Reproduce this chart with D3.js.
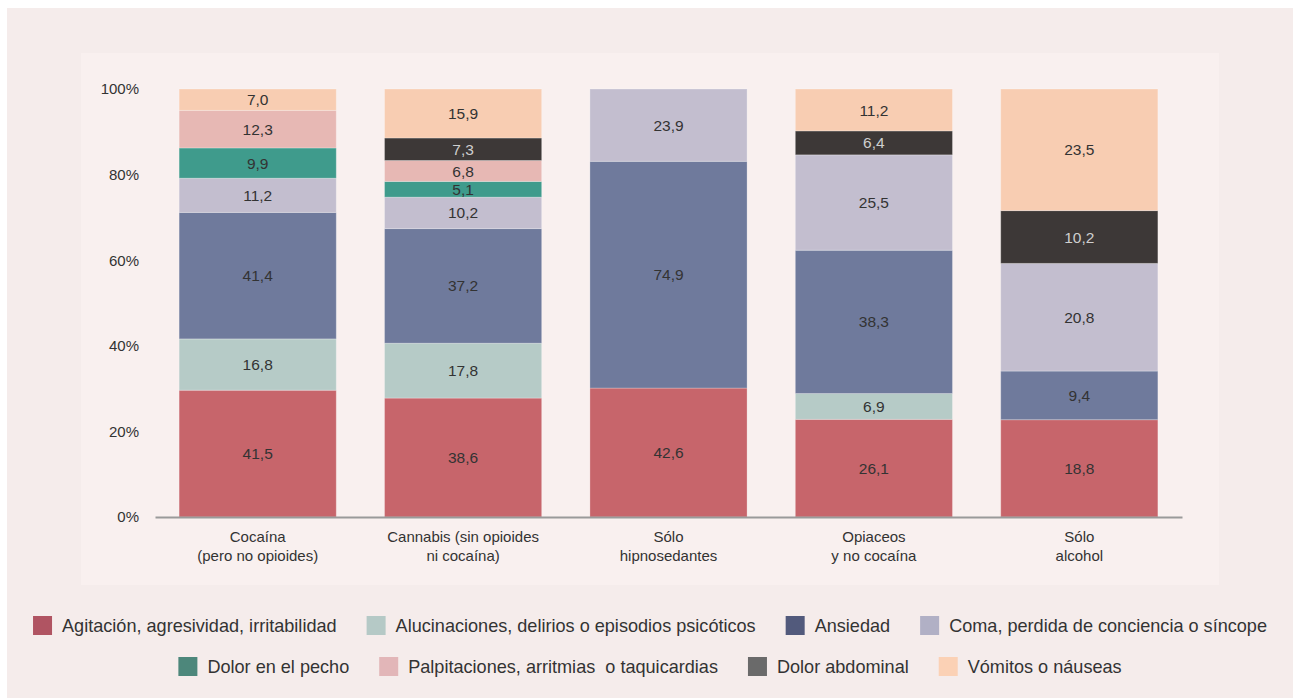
<!DOCTYPE html>
<html><head><meta charset="utf-8">
<script src="https://cdn.jsdelivr.net/npm/d3@7"></script>
<style>
html,body{margin:0;padding:0;background:#fff;}
svg{display:block;font-family:"Liberation Sans",Arial,Helvetica,sans-serif;}
</style></head>
<body>
<script>
const categories = [
  ["Cocaína","(pero no opioides)"],
  ["Cannabis (sin opioides","ni cocaína)"],
  ["Sólo","hipnosedantes"],
  ["Opiaceos","y no cocaína"],
  ["Sólo","alcohol"]
];
const seriesNames = [
  "Agitación, agresividad, irritabilidad",
  "Alucinaciones, delirios o episodios psicóticos",
  "Ansiedad",
  "Coma, perdida de conciencia o síncope",
  "Dolor en el pecho",
  "Palpitaciones, arritmias  o taquicardias",
  "Dolor abdominal",
  "Vómitos o náuseas"
];
// values per series, one per category (null = not present)
const agitacion      = [41.5, 38.6, 42.6, 26.1, 18.8];
const alucinaciones  = [16.8, 17.8, null, 6.9, null];
const ansiedad       = [41.4, 37.2, 74.9, 38.3, 9.4];
const coma           = [11.2, 10.2, 23.9, 25.5, 20.8];
const dolorPecho     = [9.9, 5.1, null, null, null];
const palpitaciones  = [12.3, 6.8, null, null, null];
const dolorAbdominal = [null, 7.3, null, 6.4, 10.2];
const vomitos        = [7.0, 15.9, null, 11.2, 23.5];
const yTicks = [0, 0.2, 0.4, 0.6, 0.8, 1];

const barColors = ["#c7656b","#b6cbc7","#6f7a9c","#c3becf","#3f9b8c","#e7b8b4","#3d3837","#f8cdb2"];
const legendColors = ["#b05462","#b5c9c6","#525a7c","#b1b0c5","#4d877b","#e2b6b8","#6a6a6a","#fbd1b5"];
const labelColors = ["#333","#333","#333","#333","#333","#333","#cfcfcf","#333"];

const allSeries = [agitacion, alucinaciones, ansiedad, coma, dolorPecho, palpitaciones, dolorAbdominal, vomitos];
const keys = seriesNames.map((d,i)=>"s"+i);
const rows = categories.map((c,ci)=>{
  const r = {cat: ci};
  allSeries.forEach((s,si)=>{ r[keys[si]] = s[ci] == null ? 0 : s[ci]; });
  return r;
});

const W = 1293, H = 698;
const svg = d3.select("body").append("svg").attr("width", W).attr("height", H);
svg.append("rect").attr("x",7).attr("y",8).attr("width",W-7).attr("height",H-8).attr("fill","#f5eceb");
svg.append("rect").attr("x",81).attr("y",53).attr("width",1138).attr("height",532).attr("fill","#f9f0ef");

const x = d3.scaleBand().domain(d3.range(categories.length)).range([155,1182]).paddingInner(0.235).paddingOuter(0.1175);
const y = d3.scaleLinear().domain([0,1]).range([517,89]);

const stack = d3.stack().keys(keys).offset(d3.stackOffsetExpand);
const stacked = stack(rows);

const g = svg.append("g");
stacked.forEach((layer, si)=>{
  const lg = g.append("g");
  lg.selectAll("rect").data(layer.filter(d=>d[1]-d[0]>0)).join("rect")
    .attr("x", d=>x(d.data.cat))
    .attr("width", x.bandwidth())
    .attr("y", d=>y(d[1]))
    .attr("height", d=>y(d[0])-y(d[1]))
    .attr("fill", barColors[si])
    .attr("stroke","rgba(255,255,255,0.25)")
    .attr("stroke-width",1);
});
stacked.forEach((layer, si)=>{
  g.append("g").selectAll("text").data(layer.filter(d=>d[1]-d[0]>0)).join("text")
    .attr("x", d=>x(d.data.cat)+x.bandwidth()/2)
    .attr("y", d=>(y(d[0])+y(d[1]))/2)
    .attr("dy","0.36em")
    .attr("text-anchor","middle")
    .attr("font-size",15.5)
    .attr("fill", labelColors[si])
    .text(d=>d3.format(".1f")(d.data[keys[si]]).replace(".",","));
});

// y axis labels
const yAxis = d3.axisLeft(y).tickValues(yTicks).tickSize(0).tickPadding(0).tickFormat(d=>Math.round(d*100)+"%");
const ya = svg.append("g").attr("transform","translate(139,0)").call(yAxis);
ya.select(".domain").remove();
ya.selectAll("text").attr("font-size",15).attr("fill","#333").attr("font-family","Liberation Sans,Arial,sans-serif");

// x axis line + labels
const xAxis = d3.axisBottom(x).tickSize(0).tickFormat("");
const xa = svg.append("g").attr("transform","translate(0,517)").call(xAxis);
xa.select(".domain").attr("stroke","#9a9a9a").attr("stroke-width",2);
xa.selectAll(".tick").each(function(d){
  const t = d3.select(this);
  categories[d].forEach((line,li)=>{
    t.append("text").attr("x",0).attr("y",20+li*19).attr("dy","0.36em")
      .attr("text-anchor","middle").attr("font-size",15).attr("fill","#333").text(line);
  });
});

// legend
const legendRows = [[0,1,2,3],[4,5,6,7]];
const legendY = [625.5, 666.5];
legendRows.forEach((row,ri)=>{
  const lg = svg.append("g");
  let cx = 0;
  row.forEach((si,k)=>{
    const it = lg.append("g").attr("transform",`translate(${cx},0)`);
    it.append("rect").attr("x",0).attr("y",-9.5).attr("width",19).attr("height",19).attr("fill",legendColors[si]);
    const tx = it.append("text").attr("x",29).attr("dy","0.36em").attr("font-size",18.1)
      .attr("fill","#333").style("white-space","pre").text(seriesNames[si]);
    const w = tx.node().getComputedTextLength();
    cx += 29 + w + 30;
  });
  const total = cx - 30;
  lg.attr("transform",`translate(${650 - total/2},${legendY[ri]})`);
});
</script>
</body></html>
